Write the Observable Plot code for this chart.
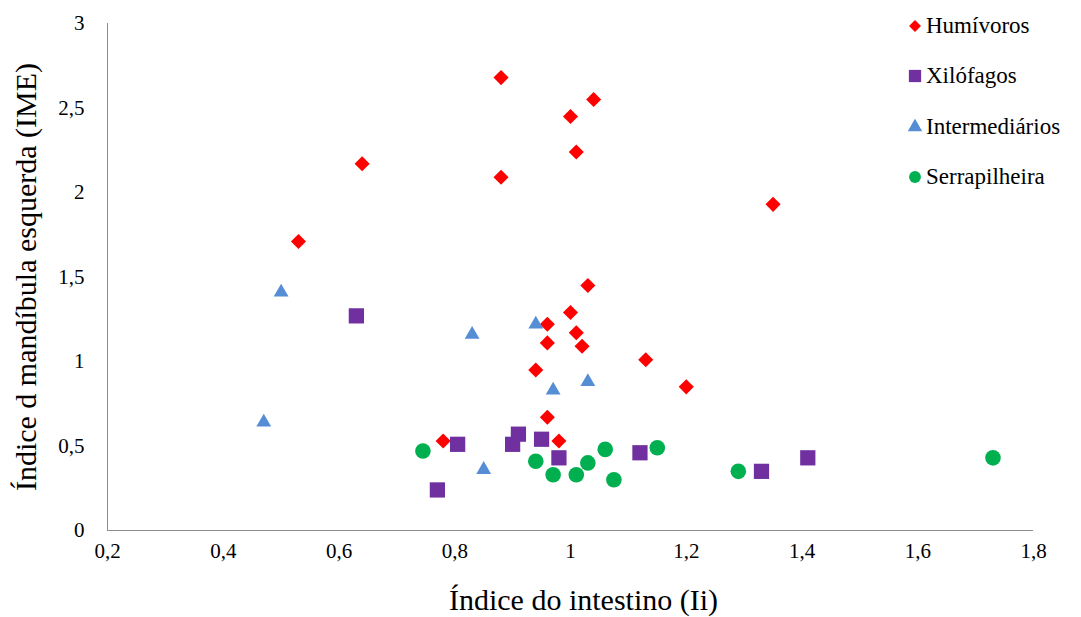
<!DOCTYPE html>
<html><head><meta charset="utf-8">
<script src="https://cdn.jsdelivr.net/npm/d3@7"></script>
<script src="https://cdn.jsdelivr.net/npm/@observablehq/plot@0.6"></script>
<style>
body{margin:0;background:#fff;font-family:"Liberation Serif","Tinos","Times New Roman","Times","DejaVu Serif",serif;}
#wrap{position:relative;width:1081px;height:617px;overflow:hidden;}
#legend{position:absolute;left:0;top:0;}
.item{position:absolute;display:flex;align-items:center;font-size:23px;white-space:nowrap;color:#000;height:26px;}
.item svg{margin-right:3px;}
</style></head><body><div id="wrap"><div id="legend"></div></div>
<script>
// Series names, colors, symbols
const series = ["Humívoros", "Xilófagos", "Intermediários", "Serrapilheira"];
const colors = ["#FF0000", "#7030A0", "#558ED5", "#00B050"];
const symbols = ["diamond2", "square", "triangle", "circle"];

// Humívoros
const humX = [0.88, 1.04, 1.00, 1.01, 0.64, 0.88, 1.35, 0.53, 1.03, 1.00, 0.96, 1.01, 0.96, 1.02, 1.13, 0.94, 1.20, 0.96, 0.98, 0.78];
const humY = [2.68, 2.55, 2.45, 2.24, 2.17, 2.09, 1.93, 1.71, 1.45, 1.29, 1.22, 1.17, 1.11, 1.09, 1.01, 0.95, 0.85, 0.67, 0.53, 0.53];
// Xilófagos
const xilX = [0.63, 0.91, 0.90, 0.805, 0.95, 0.98, 1.12, 0.77, 1.33, 1.41];
const xilY = [1.27, 0.57, 0.51, 0.51, 0.54, 0.43, 0.46, 0.24, 0.35, 0.43];
// Intermediários
const intX = [0.50, 0.47, 0.83, 0.94, 1.03, 0.97, 0.85];
const intY = [1.41, 0.64, 1.16, 1.22, 0.88, 0.83, 0.36];
// Serrapilheira
const serX = [0.745, 0.94, 0.97, 1.01, 1.03, 1.06, 1.075, 1.15, 1.29, 1.73];
const serY = [0.47, 0.41, 0.33, 0.33, 0.40, 0.48, 0.30, 0.49, 0.35, 0.43];

// Axis ticks and titles
const xTicks = [0.2, 0.4, 0.6, 0.8, 1, 1.2, 1.4, 1.6, 1.8];
const yTicks = [0, 0.5, 1, 1.5, 2, 2.5, 3];
const xTitle = "Índice do intestino (Ii)";
const yTitle = "Índice d mandíbula esquerda (IME)";

const toRows = (xs, ys) => xs.map((x, i) => ({x, y: ys[i]}));
const groups = [toRows(humX, humY), toRows(xilX, xilY), toRows(intX, intY), toRows(serX, serY)];
const radii = [6.8, 8.6, 5.5, 7.8];
const fmt = d => String(d).replace(".", ",");
const font = '"Liberation Serif", "Tinos", "Times New Roman", "Times", "DejaVu Serif", serif';

const chart = Plot.plot({
  width: 1081, height: 617,
  marginLeft: 107, marginRight: 48, marginTop: 23, marginBottom: 87,
  style: {fontFamily: font, fontSize: "21px", color: "#000", background: "#fff"},
  x: {domain: [0.2, 1.8]},
  y: {domain: [0, 3]},
  marks: [
    Plot.axisX({ticks: xTicks, tickSize: 0, tickPadding: 13, tickFormat: fmt, label: null, fontSize: 21}),
    Plot.axisY({ticks: yTicks, tickSize: 0, tickPadding: 23, tickFormat: fmt, label: null, fontSize: 21}),
    Plot.ruleX([0.2], {stroke: "#8c8c8c", strokeWidth: 1}),
    Plot.ruleY([0], {stroke: "#8c8c8c", strokeWidth: 1}),
    ...groups.map((g, i) => Plot.dot(g, {x: "x", y: "y", symbol: symbols[i], fill: colors[i], r: radii[i], stroke: "none"})),
    Plot.text([xTitle], {frameAnchor: "bottom", textAnchor: "middle", lineAnchor: "middle", dx: 13, dy: 70, fontSize: 30, fill: "#000"}),
    Plot.text([yTitle], {frameAnchor: "left", textAnchor: "middle", lineAnchor: "middle", dx: -81, rotate: -90, fontSize: 30, fill: "#000"})
  ]
});
document.getElementById("wrap").prepend(chart);

// Legend (HTML, overlaid at top right)
const legend = document.getElementById("legend");
const legendSize = [90, 150, 90, 110];
const rowTop = [13, 63, 114, 164];
series.forEach((name, i) => {
  const item = document.createElement("div");
  item.className = "item";
  item.style.left = "907px";
  item.style.top = rowTop[i] + "px";
  const sym = {diamond2: d3.symbolDiamond2, square: d3.symbolSquare, triangle: d3.symbolTriangle, circle: d3.symbolCircle}[symbols[i]];
  const path = d3.symbol(sym, legendSize[i])();
  item.innerHTML = `<svg width="16" height="16" viewBox="-8 -8 16 16"><path d="${path}" fill="${colors[i]}"/></svg><span>${name}</span>`;
  legend.appendChild(item);
});
</script>
</body></html>
